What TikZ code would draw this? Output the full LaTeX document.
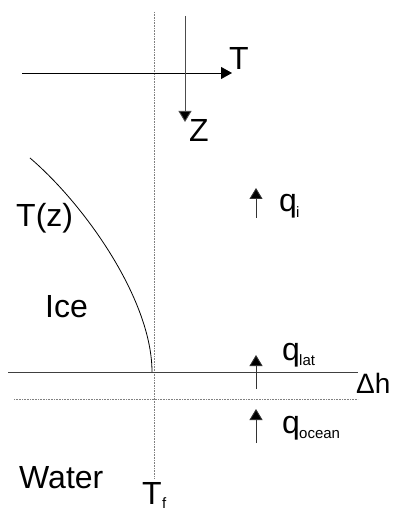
\documentclass[tikz,border=0pt]{standalone}
\usepackage{fontspec}
\setmainfont{Liberation Sans}
\usetikzlibrary{arrows.meta}
\begin{document}
\begin{tikzpicture}[x=1pt,y=-1pt,
  lbl/.style={inner sep=0pt,anchor=base west,font=\fontsize{32}{38}\selectfont},
  sublbl/.style={inner sep=0pt,anchor=base west,font=\fontsize{15}{18}\selectfont},
  tip/.style={-{Triangle[length=11pt,width=12pt]}},
  qtip/.style={black!80,line width=0.9pt,-{Triangle[length=11pt,width=13pt,fill=black]}},
  dotln/.style={gray,line width=0.8pt,dash pattern=on 0.8pt off 0.8pt}]
\useasboundingbox (0,0) rectangle (392,510);
% coordinates
\coordinate (vtop) at (154,12);
\coordinate (vbot) at (154,478);
\coordinate (tstart) at (22,73);
\coordinate (tend) at (232,73);
\coordinate (zstart) at (185,16);
\coordinate (zend) at (185,122);
\coordinate (cstart) at (30,158);
\coordinate (cend) at (152,372);
\coordinate (sl) at (8,372);
\coordinate (sr) at (358,372);
\coordinate (dl) at (14,399);
\coordinate (dr) at (358,399);
\coordinate (qia) at (256,218);
\coordinate (qib) at (256,188);
\coordinate (qla) at (256,389);
\coordinate (qlb) at (256,355);
\coordinate (qoa) at (256,443);
\coordinate (qob) at (256,409);
% lines
\draw[dotln] (vtop) -- (vbot);
\draw[line width=0.9pt,tip] (tstart) -- (tend);
\draw[black!70,line width=0.9pt,-{Triangle[length=11pt,width=13pt,fill=black]}] (zstart) -- (zend);
\draw[line width=0.8pt] (cstart) .. controls (85,205) and (152,300) .. (cend);
\draw[black!75,line width=1pt] (sl) -- (sr);
\draw[dotln] (dl) -- (dr);
\draw[qtip] (qia) -- (qib);
\draw[qtip] (qla) -- (qlb);
\draw[qtip] (qoa) -- (qob);
% labels
\node[lbl] (tlab) at (229,70) {T};
\node[lbl] (zlab) at (189,142) {Z};
\node[lbl] (tz) at (16,226) {T(z)};
\node[lbl] (ice) at (45,317) {Ice};
\node[lbl] (water) at (19,488) {Water};
\node[lbl] (tf) at (142,504) {T};
\node[sublbl] (tfs) at (162,508) {f};
\node[inner sep=0pt,anchor=base west,font=\fontsize{28}{34}\selectfont] (dh) at (356,393) {Δh};
\node[lbl] (qi) at (279,212) {q};
\node[sublbl] (qis) at (296,218) {i};
\node[lbl] (ql) at (282,360) {q};
\node[sublbl] (qls) at (299,365) {lat};
\node[lbl] (qo) at (282,433) {q};
\node[sublbl] (qos) at (299,438) {ocean};
\end{tikzpicture}
\end{document}
